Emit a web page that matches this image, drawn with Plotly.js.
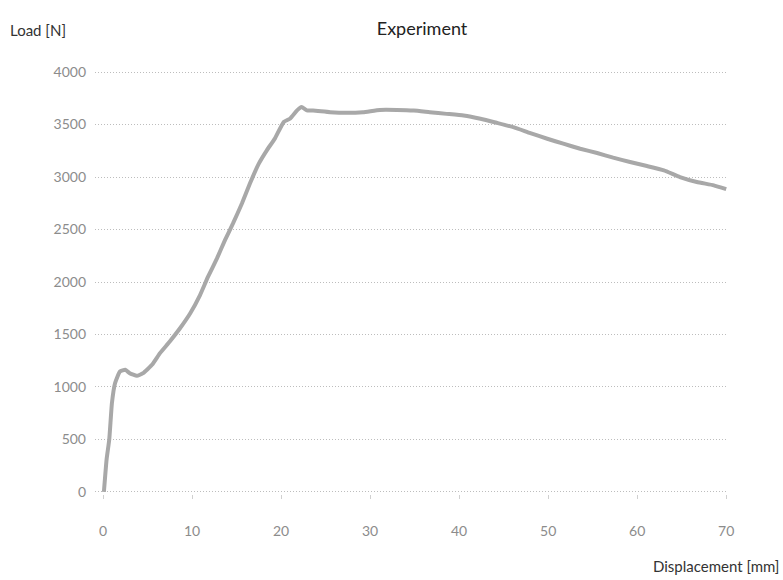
<!DOCTYPE html>
<html>
<head>
<meta charset="utf-8">
<script src="https://cdn.plot.ly/plotly-3.0.1.min.js"></script>
<style>html,body{margin:0;padding:0;background:#fff;}#chart{width:783px;height:580px;}</style>
</head>
<body>
<div id="chart"></div>
<script>
const displacement = [0.1, 0.4, 0.7, 1.0, 1.35, 1.9, 2.5, 3.0, 3.8, 4.5, 5.5, 6.4, 7.5, 8.65, 9.8, 10.9, 11.8, 12.8, 13.7, 14.6, 15.6, 16.5, 17.5, 18.4, 19.3, 20.3, 21.0, 21.8, 22.3, 22.9, 23.6, 25.5, 27.4, 29.2, 31.1, 33.0, 34.9, 36.7, 38.6, 40.5, 42.4, 44.2, 46.1, 48.0, 49.9, 51.7, 53.6, 55.5, 57.3, 59.2, 61.1, 63.0, 64.8, 66.7, 68.6, 70.0];
const load = [0, 307, 498, 846, 1036, 1147, 1163, 1131, 1106, 1131, 1211, 1322, 1433, 1559, 1702, 1876, 2051, 2225, 2399, 2558, 2748, 2938, 3128, 3255, 3366, 3525, 3556, 3635, 3667, 3635, 3634, 3618, 3612, 3618, 3640, 3640, 3634, 3618, 3602, 3586, 3555, 3517, 3475, 3418, 3365, 3318, 3270, 3229, 3185, 3143, 3105, 3064, 3000, 2953, 2921, 2885];
const xTicks = [0, 10, 20, 30, 40, 50, 60, 70];
const yTicks = [0, 500, 1000, 1500, 2000, 2500, 3000, 3500, 4000];
const chartTitle = 'Experiment';
const yLabel = 'Load [N]';
const xLabel = 'Displacement [mm]';

const tickFont = {family: 'Lato, "Open Sans", sans-serif', size: 14, color: '#8c8c8c'};
const trace = {
  x: displacement, y: load, type: 'scatter', mode: 'lines',
  line: {color: '#a8a8a8', width: 4, shape: 'spline', smoothing: 0.4},
  hoverinfo: 'skip'
};
const layout = {
  width: 783, height: 580,
  margin: {l: 95, r: 55, t: 70, b: 86},
  paper_bgcolor: '#ffffff', plot_bgcolor: '#ffffff',
  showlegend: false,
  title: {text: chartTitle, x: 0.539, xanchor: 'center', y: 0.95, yanchor: 'middle',
          font: {family: 'Lato, "Open Sans", sans-serif', size: 18, color: '#222'}},
  xaxis: {
    range: [-0.9, 70.2], tickvals: xTicks, ticktext: xTicks.map(String),
    showgrid: false, zeroline: false, showline: false,
    ticks: 'outside', ticklen: 4, tickcolor: '#d0d0d0', tickwidth: 1,
    ticklabelstandoff: 20,
    tickfont: tickFont
  },
  yaxis: {
    range: [-20, 4020], tickvals: yTicks, ticktext: yTicks.map(String),
    showgrid: true, gridcolor: '#bdbdbd', griddash: '1px,2px', gridwidth: 1,
    zeroline: false, showline: false, ticks: '',
    ticklabelstandoff: 8,
    tickfont: tickFont
  },
  annotations: [
    {text: yLabel, xref: 'paper', yref: 'paper', x: -0.137, y: 1.095, xanchor: 'left', yanchor: 'middle',
     showarrow: false, font: {family: 'Lato, "Open Sans", sans-serif', size: 15, color: '#333'}},
    {text: xLabel, xref: 'paper', yref: 'paper', x: 1.083, y: -0.17, xanchor: 'right', yanchor: 'middle',
     showarrow: false, font: {family: 'Lato, "Open Sans", sans-serif', size: 15, color: '#333'}}
  ]
};
Plotly.newPlot('chart', [trace], layout, {staticPlot: true, displayModeBar: false});
</script>
</body>
</html>
